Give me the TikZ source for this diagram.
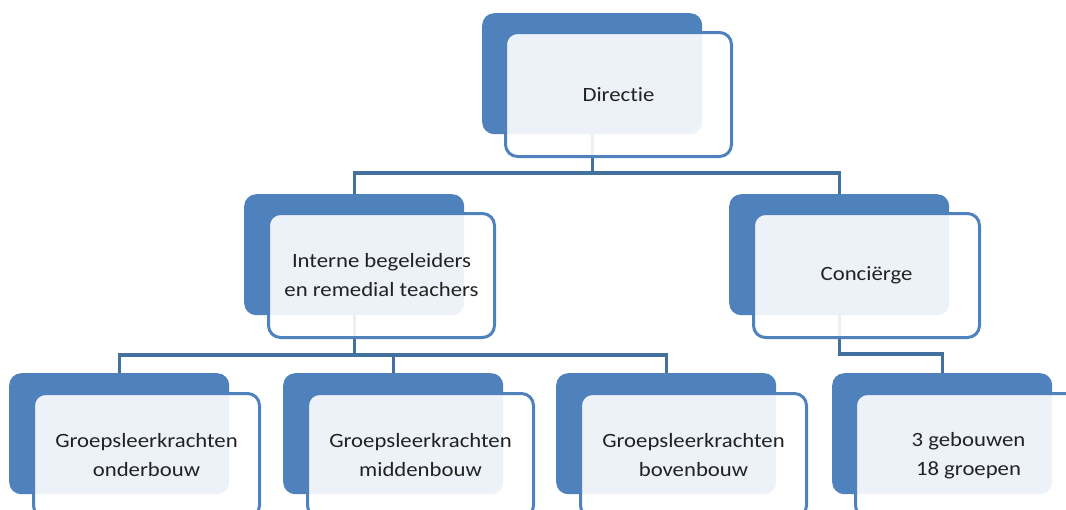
\documentclass[tikz,border=0pt]{standalone}
\usepackage{fontspec}
\setmainfont{Carlito}[FakeStretch=1.12,Ligatures=NoCommon]
\definecolor{boxblue}{HTML}{4F81BD}
\definecolor{linkblue}{HTML}{42709F}
\definecolor{txt}{HTML}{222222}
\begin{document}
\begin{tikzpicture}[x=1pt,y=-1pt,
  back/.style={draw=none,fill=boxblue,rounded corners=12pt,minimum width=220pt,minimum height=121pt,inner sep=0pt,anchor=north west},
  front/.style={draw=boxblue,line width=3pt,fill=white,fill opacity=0.9,text opacity=1,rounded corners=12pt,minimum width=226pt,minimum height=124pt,inner sep=0pt,anchor=north west,align=center,text=txt,font=\fontsize{20.3}{29}\selectfont},
  link/.style={draw=linkblue,line width=3.3pt}]
\useasboundingbox (0,0) rectangle (1066,509);
\clip (0,0) rectangle (1066,509);
% back boxes
\node[back] (dB) at (482,13) {};
\node[back] (iB) at (244,194) {};
\node[back] (cB) at (729,194) {};
\node[back] (oB) at (9,373) {};
\node[back] (mB) at (283,373) {};
\node[back] (bB) at (556,373) {};
\node[back] (gB) at (832,373) {};
% connectors
\draw[link] (dB.south) -- (dB.south |- 0,173);
\draw[link] (iB.north) -- (iB.north |- 0,173) -- (cB.north |- 0,173) -- (cB.north);
\draw[link] (iB.south) -- (iB.south |- 0,355);
\draw[link] (oB.north) -- (oB.north |- 0,355) -- (bB.north |- 0,355) -- (bB.north);
\draw[link] (mB.north) -- (mB.north |- 0,355);
\draw[link] (cB.south) -- (cB.south |- 0,354) -- (gB.north |- 0,354) -- (gB.north);
% front boxes
\node[front] (dF) at (504,31) {Directie};
\node[front] (iF) at (267,212) {Interne begeleiders\\en remedial teachers};
\node[front] (cF) at (752,212) {Conciërge};
\node[front] (oF) at (32,392) {Groepsleerkrachten\\onderbouw};
\node[front] (mF) at (306,392) {Groepsleerkrachten\\middenbouw};
\node[front] (bF) at (579,392) {Groepsleerkrachten\\bovenbouw};
\node[front] (gF) at (854,392) {3 gebouwen\\18 groepen};
\end{tikzpicture}
\end{document}
